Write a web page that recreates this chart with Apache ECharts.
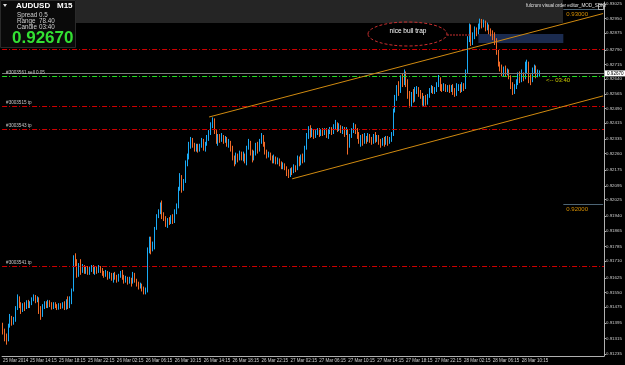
<!DOCTYPE html>
<html>
<head>
<meta charset="utf-8">
<script src="https://cdn.jsdelivr.net/npm/echarts@6/dist/echarts.min.js"></script>
<style>
html, body { margin: 0; padding: 0; background: #000; }
#chart { width: 625px; height: 365px; }
</style>
</head>
<body>
<div id="chart"></div>
<script>
// AUDUSD M15, 25 Mar 10:30 .. 28 Mar 12:45 (one entry per bar)
const opens = [
0.91380,0.91350,0.91330,0.91305,0.91380,0.91420,0.91395,0.91410,0.91470,0.91520,
0.91490,0.91460,0.91485,0.91470,0.91500,0.91480,0.91495,0.91515,0.91530,0.91505,
0.91520,0.91470,0.91430,0.91475,0.91495,0.91480,0.91500,0.91490,0.91475,0.91490,
0.91480,0.91470,0.91485,0.91475,0.91490,0.91470,0.91500,0.91480,0.91495,0.91560,
0.91730,0.91700,0.91640,0.91690,0.91660,0.91680,0.91660,0.91675,0.91650,0.91665,
0.91680,0.91655,0.91670,0.91660,0.91675,0.91665,0.91650,0.91640,0.91655,0.91630,
0.91645,0.91625,0.91640,0.91630,0.91615,0.91635,0.91650,0.91630,0.91610,0.91625,
0.91605,0.91620,0.91600,0.91640,0.91615,0.91595,0.91580,0.91590,0.91570,0.91555,
0.91565,0.91770,0.91830,0.91770,0.91800,0.91880,0.91940,0.91960,0.92000,0.91950,
0.91930,0.91900,0.91920,0.91905,0.91935,0.91915,0.91960,0.91990,0.92080,0.92130,
0.92090,0.92120,0.92210,0.92240,0.92300,0.92330,0.92305,0.92285,0.92300,0.92280,
0.92300,0.92330,0.92295,0.92310,0.92340,0.92370,0.92400,0.92430,0.92370,0.92330,
0.92345,0.92330,0.92350,0.92325,0.92340,0.92310,0.92320,0.92290,0.92240,0.92215,
0.92250,0.92235,0.92260,0.92240,0.92255,0.92230,0.92290,0.92320,0.92270,0.92240,
0.92260,0.92300,0.92280,0.92320,0.92345,0.92310,0.92270,0.92250,0.92260,0.92240,
0.92225,0.92240,0.92220,0.92230,0.92210,0.92195,0.92205,0.92185,0.92160,0.92150,
0.92175,0.92165,0.92190,0.92180,0.92230,0.92210,0.92240,0.92225,0.92290,0.92350,
0.92380,0.92360,0.92375,0.92355,0.92370,0.92380,0.92360,0.92375,0.92365,0.92380,
0.92360,0.92375,0.92385,0.92370,0.92395,0.92410,0.92385,0.92400,0.92380,0.92390,
0.92370,0.92380,0.92300,0.92350,0.92375,0.92400,0.92380,0.92360,0.92330,0.92345,
0.92320,0.92340,0.92330,0.92350,0.92335,0.92320,0.92345,0.92330,0.92345,0.92325,
0.92310,0.92330,0.92315,0.92340,0.92320,0.92335,0.92360,0.92480,0.92540,0.92600,
0.92580,0.92640,0.92620,0.92670,0.92620,0.92560,0.92510,0.92560,0.92540,0.92575,
0.92590,0.92570,0.92560,0.92530,0.92545,0.92520,0.92550,0.92580,0.92595,0.92575,
0.92590,0.92610,0.92640,0.92600,0.92590,0.92605,0.92590,0.92600,0.92585,0.92600,
0.92580,0.92565,0.92590,0.92600,0.92585,0.92605,0.92595,0.92680,0.92840,0.92900,
0.92830,0.92860,0.92895,0.92880,0.92910,0.92935,0.92920,0.92935,0.92905,0.92915,
0.92890,0.92880,0.92860,0.92840,0.92780,0.92720,0.92700,0.92670,0.92690,0.92670,
0.92680,0.92650,0.92610,0.92580,0.92600,0.92620,0.92660,0.92640,0.92665,0.92650,
0.92680,0.92720,0.92650,0.92630,0.92680,0.92700,0.92660,0.92670
];
const closes = [
0.91350,0.91330,0.91305,0.91380,0.91420,0.91395,0.91410,0.91470,0.91520,0.91490,
0.91460,0.91485,0.91470,0.91500,0.91480,0.91495,0.91515,0.91530,0.91505,0.91520,
0.91470,0.91430,0.91475,0.91495,0.91480,0.91500,0.91490,0.91475,0.91490,0.91480,
0.91470,0.91485,0.91475,0.91490,0.91470,0.91500,0.91480,0.91495,0.91560,0.91730,
0.91700,0.91640,0.91690,0.91660,0.91680,0.91660,0.91675,0.91650,0.91665,0.91680,
0.91655,0.91670,0.91660,0.91675,0.91665,0.91650,0.91640,0.91655,0.91630,0.91645,
0.91625,0.91640,0.91630,0.91615,0.91635,0.91650,0.91630,0.91610,0.91625,0.91605,
0.91620,0.91600,0.91640,0.91615,0.91595,0.91580,0.91590,0.91570,0.91555,0.91565,
0.91770,0.91830,0.91770,0.91800,0.91880,0.91940,0.91960,0.92000,0.91950,0.91930,
0.91900,0.91920,0.91905,0.91935,0.91915,0.91960,0.91990,0.92080,0.92130,0.92090,
0.92120,0.92210,0.92240,0.92300,0.92330,0.92305,0.92285,0.92300,0.92280,0.92300,
0.92330,0.92295,0.92310,0.92340,0.92370,0.92400,0.92430,0.92370,0.92330,0.92345,
0.92330,0.92350,0.92325,0.92340,0.92310,0.92320,0.92290,0.92240,0.92215,0.92250,
0.92235,0.92260,0.92240,0.92255,0.92230,0.92290,0.92320,0.92270,0.92240,0.92260,
0.92300,0.92280,0.92320,0.92345,0.92310,0.92270,0.92250,0.92260,0.92240,0.92225,
0.92240,0.92220,0.92230,0.92210,0.92195,0.92205,0.92185,0.92160,0.92150,0.92175,
0.92165,0.92190,0.92180,0.92230,0.92210,0.92240,0.92225,0.92290,0.92350,0.92380,
0.92360,0.92375,0.92355,0.92370,0.92380,0.92360,0.92375,0.92365,0.92380,0.92360,
0.92375,0.92385,0.92370,0.92395,0.92410,0.92385,0.92400,0.92380,0.92390,0.92370,
0.92380,0.92300,0.92350,0.92375,0.92400,0.92380,0.92360,0.92330,0.92345,0.92320,
0.92340,0.92330,0.92350,0.92335,0.92320,0.92345,0.92330,0.92345,0.92325,0.92310,
0.92330,0.92315,0.92340,0.92320,0.92335,0.92360,0.92480,0.92540,0.92600,0.92580,
0.92640,0.92620,0.92670,0.92620,0.92560,0.92510,0.92560,0.92540,0.92575,0.92590,
0.92570,0.92560,0.92530,0.92545,0.92520,0.92550,0.92580,0.92595,0.92575,0.92590,
0.92610,0.92640,0.92600,0.92590,0.92605,0.92590,0.92600,0.92585,0.92600,0.92580,
0.92565,0.92590,0.92600,0.92585,0.92605,0.92595,0.92680,0.92840,0.92900,0.92830,
0.92860,0.92895,0.92880,0.92910,0.92935,0.92920,0.92935,0.92905,0.92915,0.92890,
0.92880,0.92860,0.92840,0.92780,0.92720,0.92700,0.92670,0.92690,0.92670,0.92680,
0.92650,0.92610,0.92580,0.92600,0.92620,0.92660,0.92640,0.92665,0.92650,0.92680,
0.92720,0.92650,0.92630,0.92680,0.92700,0.92660,0.92670,0.92670
];
const lows = [
0.91335,0.91300,0.91283,0.91300,0.91370,0.91380,0.91385,0.91400,0.91460,0.91470,
0.91440,0.91450,0.91455,0.91465,0.91470,0.91470,0.91485,0.91505,0.91495,0.91500,
0.91440,0.91410,0.91425,0.91465,0.91470,0.91470,0.91475,0.91462,0.91465,0.91470,
0.91460,0.91462,0.91465,0.91468,0.91460,0.91462,0.91465,0.91470,0.91490,0.91555,
0.91680,0.91625,0.91630,0.91640,0.91650,0.91645,0.91645,0.91640,0.91640,0.91655,
0.91645,0.91640,0.91645,0.91650,0.91650,0.91635,0.91625,0.91630,0.91615,0.91620,
0.91610,0.91600,0.91615,0.91600,0.91605,0.91625,0.91615,0.91595,0.91600,0.91590,
0.91595,0.91580,0.91595,0.91600,0.91580,0.91565,0.91570,0.91555,0.91540,0.91540,
0.91550,0.91750,0.91745,0.91760,0.91770,0.91870,0.91930,0.91950,0.91925,0.91915,
0.91885,0.91880,0.91895,0.91900,0.91900,0.91905,0.91950,0.91980,0.92070,0.92060,
0.92070,0.92110,0.92195,0.92230,0.92285,0.92290,0.92270,0.92270,0.92265,0.92270,
0.92290,0.92275,0.92270,0.92300,0.92325,0.92355,0.92390,0.92360,0.92310,0.92300,
0.92315,0.92320,0.92310,0.92315,0.92295,0.92290,0.92270,0.92225,0.92195,0.92205,
0.92215,0.92225,0.92225,0.92220,0.92210,0.92200,0.92280,0.92250,0.92215,0.92225,
0.92250,0.92260,0.92270,0.92310,0.92295,0.92255,0.92235,0.92240,0.92225,0.92210,
0.92210,0.92205,0.92205,0.92195,0.92180,0.92180,0.92175,0.92145,0.92135,0.92140,
0.92150,0.92160,0.92165,0.92175,0.92195,0.92200,0.92210,0.92215,0.92280,0.92335,
0.92340,0.92345,0.92335,0.92340,0.92355,0.92345,0.92350,0.92350,0.92355,0.92340,
0.92335,0.92360,0.92355,0.92360,0.92380,0.92370,0.92375,0.92365,0.92360,0.92345,
0.92355,0.92255,0.92290,0.92340,0.92365,0.92360,0.92335,0.92310,0.92295,0.92300,
0.92310,0.92310,0.92320,0.92315,0.92305,0.92310,0.92315,0.92320,0.92305,0.92290,
0.92300,0.92295,0.92305,0.92300,0.92310,0.92320,0.92350,0.92470,0.92530,0.92555,
0.92570,0.92600,0.92610,0.92600,0.92540,0.92495,0.92500,0.92520,0.92525,0.92565,
0.92550,0.92540,0.92505,0.92500,0.92505,0.92510,0.92545,0.92570,0.92565,0.92565,
0.92575,0.92600,0.92580,0.92575,0.92580,0.92575,0.92575,0.92570,0.92575,0.92560,
0.92550,0.92555,0.92580,0.92570,0.92575,0.92580,0.92590,0.92670,0.92830,0.92810,
0.92815,0.92845,0.92860,0.92870,0.92895,0.92900,0.92905,0.92885,0.92890,0.92870,
0.92860,0.92840,0.92815,0.92765,0.92705,0.92680,0.92655,0.92655,0.92655,0.92660,
0.92640,0.92590,0.92560,0.92565,0.92590,0.92610,0.92620,0.92625,0.92630,0.92640,
0.92670,0.92620,0.92610,0.92625,0.92670,0.92645,0.92650,0.92655
];
const highs = [
0.91395,0.91365,0.91340,0.91390,0.91440,0.91430,0.91425,0.91480,0.91540,0.91530,
0.91500,0.91495,0.91500,0.91510,0.91512,0.91505,0.91525,0.91540,0.91537,0.91530,
0.91525,0.91480,0.91490,0.91505,0.91505,0.91512,0.91510,0.91500,0.91500,0.91500,
0.91490,0.91495,0.91495,0.91500,0.91505,0.91515,0.91530,0.91530,0.91570,0.91740,
0.91750,0.91720,0.91700,0.91720,0.91695,0.91690,0.91685,0.91685,0.91680,0.91690,
0.91690,0.91680,0.91685,0.91690,0.91685,0.91675,0.91660,0.91665,0.91660,0.91655,
0.91650,0.91650,0.91655,0.91640,0.91645,0.91660,0.91665,0.91640,0.91635,0.91630,
0.91630,0.91625,0.91655,0.91650,0.91620,0.91605,0.91600,0.91595,0.91580,0.91575,
0.91780,0.91835,0.91835,0.91810,0.91885,0.91950,0.91975,0.92010,0.92020,0.91960,
0.91940,0.91930,0.91935,0.91945,0.91950,0.91975,0.92005,0.92090,0.92160,0.92150,
0.92130,0.92225,0.92260,0.92320,0.92345,0.92340,0.92315,0.92310,0.92310,0.92310,
0.92340,0.92335,0.92320,0.92355,0.92380,0.92420,0.92445,0.92440,0.92380,0.92360,
0.92360,0.92365,0.92355,0.92350,0.92345,0.92335,0.92325,0.92300,0.92250,0.92265,
0.92260,0.92275,0.92270,0.92270,0.92260,0.92300,0.92335,0.92325,0.92280,0.92275,
0.92315,0.92320,0.92335,0.92365,0.92355,0.92320,0.92280,0.92270,0.92265,0.92250,
0.92255,0.92245,0.92240,0.92235,0.92220,0.92215,0.92210,0.92195,0.92180,0.92185,
0.92190,0.92205,0.92200,0.92250,0.92245,0.92255,0.92260,0.92300,0.92365,0.92400,
0.92405,0.92390,0.92385,0.92380,0.92390,0.92390,0.92385,0.92390,0.92390,0.92390,
0.92385,0.92396,0.92395,0.92410,0.92432,0.92420,0.92415,0.92405,0.92400,0.92396,
0.92395,0.92385,0.92360,0.92390,0.92417,0.92410,0.92390,0.92370,0.92355,0.92360,
0.92365,0.92350,0.92365,0.92360,0.92345,0.92360,0.92370,0.92355,0.92355,0.92335,
0.92340,0.92345,0.92350,0.92350,0.92345,0.92370,0.92490,0.92560,0.92610,0.92630,
0.92660,0.92670,0.92690,0.92680,0.92640,0.92580,0.92575,0.92590,0.92600,0.92605,
0.92600,0.92585,0.92570,0.92555,0.92560,0.92565,0.92595,0.92610,0.92605,0.92600,
0.92625,0.92662,0.92650,0.92615,0.92620,0.92615,0.92610,0.92612,0.92610,0.92615,
0.92595,0.92620,0.92615,0.92615,0.92625,0.92620,0.92690,0.92860,0.92925,0.92920,
0.92880,0.92910,0.92905,0.92925,0.92950,0.92948,0.92945,0.92940,0.92930,0.92920,
0.92900,0.92890,0.92880,0.92850,0.92790,0.92730,0.92715,0.92705,0.92710,0.92695,
0.92690,0.92660,0.92625,0.92615,0.92640,0.92675,0.92680,0.92690,0.92675,0.92730,
0.92740,0.92730,0.92665,0.92700,0.92715,0.92710,0.92690,0.92685
];

// price scale tick labels, bottom to top
const priceTicks = [
0.91235,0.91315,0.91395,0.91475,0.91550,0.91625,0.91710,0.91785,0.91865,0.91940,
0.92025,0.92095,0.92175,0.92260,0.92335,0.92415,0.92490,0.92565,0.92640,0.92715,
0.92790,0.92875,0.92950,0.93025
];
const timeTicks = [
'25 Mar 14:15','25 Mar 18:15','25 Mar 22:15','26 Mar 02:15','26 Mar 06:15',
'26 Mar 10:15','26 Mar 14:15','26 Mar 18:15','26 Mar 22:15','27 Mar 02:15',
'27 Mar 06:15','27 Mar 10:15','27 Mar 14:15','27 Mar 18:15','27 Mar 22:15',
'28 Mar 02:15','28 Mar 06:15','28 Mar 10:15'
];
const firstTick = '25 Mar 2014';

// order / level lines
const orderLines = [
  { name: '#3003561 sell 0.05', price: 0.92654, color: '#22dd22' },
  { name: '#3003515 tp', price: 0.92501, color: '#d00000' },
  { name: '#3003543 tp', price: 0.92383, color: '#d00000' },
  { name: '#3003541 tp', price: 0.91683, color: '#d00000' },
  { name: '', price: 0.92792, color: '#d00000' }
];
const bid = 0.92670;
// channel lines [barIndex, price]
const channelUpper = [[114, 0.92447], [332, 0.92976]];
const channelLower = [[160, 0.92131], [332, 0.92555]];
const zoneBox = [[263, 0.92872], [310, 0.92826]];
const levels = [0.93000, 0.92000];

// category axis: one slot per 15 minutes, including empty space on the right
const slots = 333;
const times = [];
const t0 = Date.UTC(2014, 2, 25, 10, 30);
for (let i = 0; i < slots; i++) {
  const d = new Date(t0 + i * 15 * 60000);
  const p = n => String(n).padStart(2, '0');
  times.push(p(d.getUTCDate()) + ' Mar ' + p(d.getUTCHours()) + ':' + p(d.getUTCMinutes()));
}

const candles = opens.map((o, i) => [o, closes[i], lows[i], highs[i]]);

const chart = echarts.init(document.getElementById('chart'));

const smallFont = 'Liberation Sans, Arial, sans-serif';
const dashDot = [5, 2, 1, 2];

const markLines = orderLines.map(l => ({
  yAxis: l.price,
  lineStyle: { color: l.color, type: dashDot, width: 1 },
  label: {
    show: !!l.name, position: 'insideStartTop', formatter: l.name,
    color: '#c8c8c8', fontSize: 4.6, fontFamily: smallFont, distance: [4, 1]
  }
}));
markLines.push({
  yAxis: bid,
  lineStyle: { color: '#7a7a7a', type: 'solid', width: 1 },
  label: {
    show: true, position: 'end', formatter: bid.toFixed(5),
    color: '#000', backgroundColor: '#fff', fontSize: 4.6, fontFamily: smallFont,
    padding: [1, 2, 0, 2], distance: 1
  }
});
[channelUpper, channelLower].forEach(c => {
  markLines.push([
    { coord: c[0], lineStyle: { color: '#d08a10', type: 'solid', width: 1 }, label: { show: false } },
    { coord: c[1] }
  ]);
});
levels.forEach(v => {
  markLines.push([
    { coord: [310, v], lineStyle: { color: '#4d6575', type: 'solid', width: 1 },
      label: { show: true, position: 'insideStartBottom', formatter: v.toFixed(5),
        color: '#d89000', fontSize: 6, fontFamily: smallFont, distance: [3, 2] } },
    { coord: [332, v] }
  ]);
});

chart.setOption({
  backgroundColor: '#000',
  animation: false,
  grid: { left: 2, right: 21, top: 2, bottom: 9 },
  xAxis: {
    type: 'category',
    data: times,
    axisLine: { lineStyle: { color: '#b0b0b0', width: 1 } },
    axisTick: {
      alignWithLabel: true, length: 2, lineStyle: { color: '#b0b0b0' },
      interval: (i, v) => i === 0 || timeTicks.includes(v)
    },
    axisLabel: {
      interval: (i, v) => i === 0 || timeTicks.includes(v),
      formatter: (v, i) => (i === 0 ? firstTick : v),
      align: 'left', color: '#d0d0d0', fontSize: 4.5, fontFamily: smallFont, margin: 2
    },
    splitLine: { show: false }
  },
  yAxis: {
    type: 'value',
    position: 'right',
    min: 0.91225,
    max: 0.93035,
    axisLine: { show: true, lineStyle: { color: '#b0b0b0', width: 1 } },
    axisTick: { show: true, length: 2, inside: false, customValues: priceTicks, lineStyle: { color: '#b0b0b0' } },
    axisLabel: {
      customValues: priceTicks, formatter: v => v.toFixed(5),
      color: '#d0d0d0', fontSize: 4.4, fontFamily: smallFont, margin: 2
    },
    splitLine: { show: false }
  },
  series: [{
    type: 'candlestick',
    data: candles,
    barWidth: 1.3,
    itemStyle: {
      color: '#1aaaf5', color0: '#f06a28',
      borderColor: '#1aaaf5', borderColor0: '#f06a28', borderWidth: 1
    },
    markArea: {
      silent: true,
      itemStyle: { color: '#1b2b4f' },
      data: [[{ coord: zoneBox[0] }, { coord: zoneBox[1] }]]
    },
    markLine: { symbol: 'none', silent: true, precision: 5, data: markLines }
  }],
  graphic: [
    // visual order editor header band
    { type: 'rect', left: 76, top: 0, shape: { width: 487, height: 23 }, style: { fill: '#252525' }, z: -1, silent: true },
    // info panel
    { type: 'rect', left: 0, top: 0, shape: { width: 75, height: 47 }, style: { fill: '#0a0a0a', stroke: '#2a2a2a' }, z: 10 },
    { type: 'polygon', shape: { points: [[3, 4], [7, 4], [5, 7]] }, style: { fill: '#ddd' }, z: 11 },
    { type: 'text', left: 16, top: 2, style: { text: 'AUDUSD', fill: '#fff', font: 'bold 8px Liberation Sans' }, z: 11 },
    { type: 'text', left: 57, top: 2, style: { text: 'M15', fill: '#fff', font: 'bold 8px Liberation Sans' }, z: 11 },
    { type: 'text', left: 17, top: 12, style: { text: 'Spread', fill: '#cfcfcf', font: '6.3px Liberation Sans' }, z: 11 },
    { type: 'text', left: 39, top: 12, style: { text: '0.5', fill: '#cfcfcf', font: '6.3px Liberation Sans' }, z: 11 },
    { type: 'text', left: 17, top: 18, style: { text: 'Range', fill: '#cfcfcf', font: '6.3px Liberation Sans' }, z: 11 },
    { type: 'text', left: 39, top: 18, style: { text: '78.40', fill: '#cfcfcf', font: '6.3px Liberation Sans' }, z: 11 },
    { type: 'text', left: 17, top: 24, style: { text: 'Candle', fill: '#cfcfcf', font: '6.3px Liberation Sans' }, z: 11 },
    { type: 'text', left: 39, top: 24, style: { text: '03:40', fill: '#cfcfcf', font: '6.3px Liberation Sans' }, z: 11 },
    { type: 'text', left: 12, top: 30, style: { text: '0.92670', fill: '#33e033', font: 'bold 17px Liberation Sans' }, z: 11 },
    // visual order editor caption
    { type: 'text', left: 526, top: 3, style: { text: 'fulcrum visual order editor_MOD_SDIG', fill: '#e0e0e0', font: '4.6px Liberation Sans' }, z: 11 },
    { type: 'rect', left: 596, top: 2, shape: { width: 5, height: 5 }, style: { fill: 'none', stroke: '#ccc', lineWidth: 0.8 }, z: 11 },
    // annotation
    { type: 'ellipse', shape: { cx: 407.5, cy: 34, rx: 39.5, ry: 12 }, style: { fill: 'none', stroke: '#c83030', lineWidth: 1, lineDash: [3, 2] }, z: 11 },
    { type: 'text', x: 408, y: 31, style: { text: 'nice bull trap', fill: '#fff', font: '6.5px Liberation Sans', textAlign: 'center', textVerticalAlign: 'middle' }, z: 11 },
    { type: 'line', shape: { x1: 447, y1: 35, x2: 470, y2: 35 }, style: { stroke: '#c83030', lineWidth: 1, lineDash: [2, 1] }, z: 11 },
    { type: 'text', left: 546, top: 77, style: { text: '<-- 03:40', fill: '#c8c800', font: '6px Liberation Sans' }, z: 11 }
  ]
});
</script>
</body>
</html>
